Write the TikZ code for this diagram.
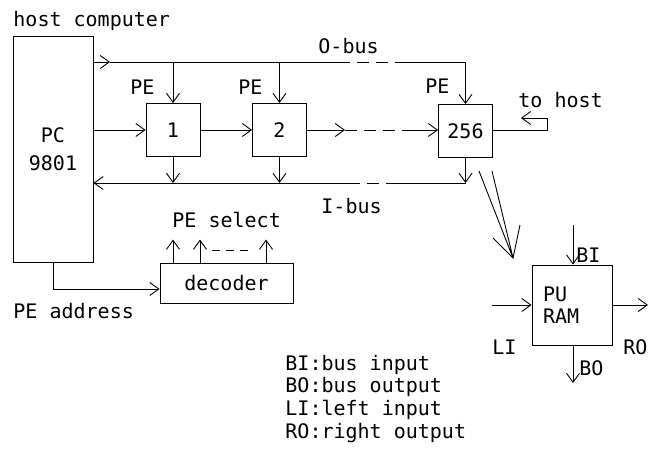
\documentclass[tikz,border=0pt]{standalone}
\usepackage{fontspec}
\setmonofont{DejaVu Sans Mono}
\usetikzlibrary{arrows.meta, positioning, calc}

\begin{document}
\begin{tikzpicture}[x=1pt, y=-1pt, line width=0.9pt,
  every node/.style={font=\ttfamily\fontsize{20}{22}\selectfont, inner sep=0pt},
  pebox/.style={draw, minimum width=54pt, minimum height=53pt},
  arr/.style={-{Straight Barb[length=9pt, width=13pt]}},
  bus/.style={dash pattern=on 12pt off 7pt},
  lbl/.style={anchor=base west},
]

\useasboundingbox (0,0) rectangle (649,461);

% host side
\node[draw, minimum width=80pt, minimum height=226pt, align=center] (pc) at (53,149) {PC\\[6pt]9801};
\node[lbl] (hostlbl) at (13,26) {host computer};

% processing elements
\node[pebox] (pe1) at (173,130)   {1};
\node[pebox] (pe2) at (279.5,130) {2};
\node[pebox] (pen) at (465.5,131) {256};

\node[lbl] at (130,94) {PE};
\node[lbl] at (238,94) {PE};
\node[lbl] at (425,93) {PE};

% O-bus
\coordinate (ob)  at (110,62);
\coordinate (ob1) at (338,62);
\coordinate (ob2) at (400,62);
\draw[arr] (pc.east |- ob) -- (ob);
\draw      (ob)  -- (ob1);
\draw[bus] (ob1) -- (ob2);
\draw[arr] (ob2) -| (pen.north);
\draw[arr] (pe1.north |- ob) -- (pe1.north);
\draw[arr] (pe2.north |- ob) -- (pe2.north);
\node[lbl] at (318,53) {O-bus};

% left-to-right chain
\coordinate (r1) at (345,130);
\coordinate (r2) at (405,130);
\draw[arr] (pc.east |- pe1.west) -- (pe1.west);
\draw[arr] (pe1) -- (pe2);
\draw[arr] (pe2.east) -- (r1);
\draw[bus] (r1) -- (r2);
\draw[arr] (r2) -- (r2 -| pen.west);

% to host
\draw[arr] (pen.east |- r2) -- ++(54,0) -- ++(0,-12) -- ++(-26,0);
\node[lbl] at (518,107) {to host};

% I-bus
\coordinate (ib)  at (466,183);
\coordinate (ib1) at (398,183);
\coordinate (ib2) at (350,183);
\draw[arr] (pen.south) -- (pen.south |- ib);
\draw[arr] (pe1.south) -- (pe1.south |- ib);
\draw[arr] (pe2.south) -- (pe2.south |- ib);
\draw      (pen.south |- ib) -- (ib1);
\draw[bus] (ib1) -- (ib2);
\draw[arr] (ib2) -- (pc.east |- ib);
\node[lbl] at (321,213) {I-bus};

% decoder
\node[draw, minimum width=133pt, minimum height=40pt] (dec) at (226.5,283) {decoder};
\draw[arr] (pc.south) |- ([yshift=-6pt]dec.west);
\node[lbl] at (13,318) {PE address};
\draw[arr] (dec.north -| 173,0) -- ++(0,-23);
\draw[arr] (dec.north -| 200,0) -- ++(0,-23);
\draw[arr] (dec.north -| 266,0) -- ++(0,-23);
\draw[dash pattern=on 8pt off 6pt] (212,250) -- (248,250);
\node[lbl] at (172,227) {PE select};

% PU / RAM detail
\node[draw, minimum width=80pt, minimum height=80pt, text width=58pt, align=left] (pu) at (572,305) {PU\\RAM};
\coordinate (d1) at (479,171);
\coordinate (d2) at (492,171);
\coordinate (dt) at (513,258);
\coordinate (w1) at (493,238);
\coordinate (w2) at (520,225);
\draw (d1) -- (dt) -- (d2);
\draw (w1) -- (dt) -- (w2);

\coordinate (bi) at (573,225);
\coordinate (li) at (492,305);
\coordinate (ro) at (648,305);
\coordinate (bo) at (573,383);
\draw[arr] (bi) -- (bi |- pu.north);
\draw[arr] (li) -- (pu.west);
\draw[arr] (pu.east) -- (ro);
\draw[arr] (pu.south -| bo) -- (bo);
\node[lbl] at (576,262) {BI};
\node[lbl] at (492,354) {LI};
\node[lbl] at (623,354) {RO};
\node[lbl] at (579,375) {BO};

% legend
\node[lbl] at (285,370) {BI:bus input};
\node[lbl] at (285,392) {BO:bus output};
\node[lbl] at (285,415) {LI:left input};
\node[lbl] at (285,438) {RO:right output};

\end{tikzpicture}
\end{document}
